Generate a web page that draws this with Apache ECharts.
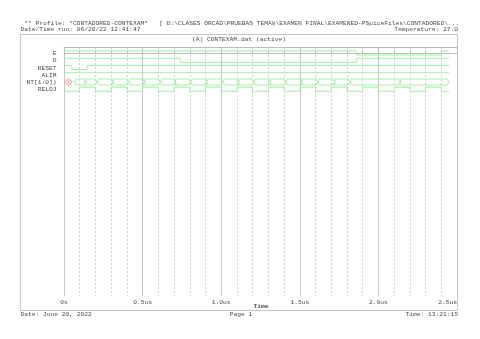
<!DOCTYPE html>
<html><head><meta charset="utf-8">
<script src="https://cdn.jsdelivr.net/npm/echarts@6/dist/echarts.min.js"></script>
<style>html,body{margin:0;padding:0;background:#fff}#c{width:480px;height:339px}</style>
</head><body><div id="c"></div>
<script>
// ---- data ----
const signalNames = ['E', 'D', 'RESET', 'ALIM', 'NT[1:0])', 'RELOJ'];
const eTimes = [0, 1.86, 2.40];
const eLevels = [1, 0, 1];
const dTimes = [0, 0.74, 1.86];
const dLevels = [1, 0, 1];
const resetTimes = [0, 0.05, 0.147];
const resetLevels = [1, 0, 1];
const alimTimes = [0];
const alimLevels = [1];
const clkTimes = [0, 0.1, 0.2, 0.3, 0.4, 0.5, 0.6, 0.7, 0.8, 0.9, 1.0, 1.1, 1.2, 1.3, 1.4, 1.5, 1.6, 1.7, 1.8, 1.9, 2.0, 2.1, 2.2, 2.3, 2.4];
const clkLevels = [0, 1, 0, 1, 0, 1, 0, 1, 0, 1, 0, 1, 0, 1, 0, 1, 0, 1, 0, 1, 0, 1, 0, 1, 0];
const busTimes = [0, 0.064, 0.211, 0.409, 0.613, 0.805, 1.009, 1.207, 1.411, 1.616, 1.82];
const busValues = ['X', '0', '3', '2', '1', '2', '3', '0', '1', '2', '3'];
const simEnd = 2.45;
const tickLabels = ['0s', '0.5us', '1.0us', '1.5us', '2.0us', '2.5us'];
const axisTitle = 'Time';
const headerLine1 = ' ** Profile: "CONTADORED-CONTEXAM"   [ D:\\CLASES ORCAD\\PRUEBAS TEMA8\\EXAMEN FINAL\\EXAMENED-PSpiceFiles\\CONTADORED\\...';
const headerLine2 = 'Date/Time run: 06/20/22 12:41:47';
const temperatureText = 'Temperature: 27.0';
const plotTitle = '(A) CONTEXAM.dat (active)';
const footerDate = 'Date: June 20, 2022';
const footerPage = 'Page 1';
const footerTime = 'Time: 13:21:15';

// ---- styling / layout ----
const FONT = '"Liberation Mono", "DejaVu Sans Mono", monospace';
const FS = 6.25;
const TXT = '#4a4a4a';
const GREEN = '#a2efa2';
const RED = '#f7a0a0';
const GRID = '#cfcfcf';
const LVL = 0.28, BUSH = 0.42;

function digital(row, times, levels) {
  const d = times.map((t, i) => [t, row + (levels[i] ? -LVL : LVL)]);
  d.push([simEnd, row + (levels[levels.length - 1] ? -LVL : LVL)]);
  return {
    type: 'line', step: 'end', data: d, symbol: 'none', silent: true,
    lineStyle: { color: GREEN, width: 1 }, animation: false, z: 5
  };
}

const busSegs = busTimes.map((t, i) => [t, i + 1 < busTimes.length ? busTimes[i + 1] : simEnd]);
const busRow = 4;

const chart = echarts.init(document.getElementById('c'), null, { renderer: 'canvas' });
chart.setOption({
  backgroundColor: '#fff',
  animation: false,
  grid: { left: 64, right: 23, top: 47, bottom: 43.5, outerBoundsMode: 'none' },
  xAxis: [{
    type: 'value', min: 0, max: 2.5, interval: 0.5, position: 'bottom',
    axisLine: { lineStyle: { color: '#bdbdbd', width: 1 } },
    axisTick: { inside: true, length: 4, lineStyle: { color: '#bdbdbd' } },
    minorTick: { show: true, splitNumber: 5, length: 3, lineStyle: { color: '#bdbdbd' } },
    splitLine: { show: true, lineStyle: { color: '#c6c6c6', width: 1 } },
    minorSplitLine: { show: true, lineStyle: { color: GRID, width: 1, type: [2, 2] } },
    axisLabel: {
      formatter: v => tickLabels[Math.round(v / 0.5)], margin: 3.5,
      fontFamily: FONT, fontSize: FS, color: TXT, alignMaxLabel: 'right'
    }
  }, {
    type: 'value', min: 0, max: 2.5, interval: 0.5, position: 'top',
    axisLine: { lineStyle: { color: '#bdbdbd', width: 1 } },
    axisTick: { inside: true, length: 3, lineStyle: { color: '#bdbdbd' } },
    minorTick: { show: true, splitNumber: 5, length: 2, lineStyle: { color: '#bdbdbd' } },
    splitLine: { show: false }, axisLabel: { show: false }
  }],
  yAxis: { type: 'value', inverse: true, min: -0.83, max: 33.45, show: false },
  series: [
    digital(0, eTimes, eLevels),
    digital(1, dTimes, dLevels),
    digital(2, resetTimes, resetLevels),
    digital(3, alimTimes, alimLevels),
    digital(5, clkTimes, clkLevels),
    {
      type: 'custom', data: busSegs, silent: true, z: 6, clip: false,
      renderItem: (params, api) => {
        const t0 = api.value(0), t1 = api.value(1);
        const p0 = api.coord([t0, busRow]), p1 = api.coord([t1, busRow]);
        const top = api.coord([t0, busRow - BUSH])[1], bot = api.coord([t0, busRow + BUSH])[1];
        const label = busValues[params.dataIndex];
        const isX = label === 'X';
        const col = isX ? RED : GREEN;
        const x0 = p0[0] + (isX ? 1 : 0), x1 = p1[0] - (isX ? 2 : 0);
        const d = isX ? 2.5 : 2;
        const cy = p0[1];
        return {
          type: 'group', children: [
            { type: 'polygon', shape: { points: [[x0, cy], [x0 + d, top], [x1 - d, top], [x1, cy], [x1 - d, bot], [x0 + d, bot]] },
              style: { fill: 'none', stroke: col, lineWidth: 1 } },
            { type: 'text', style: { text: label, x: (x0 + x1) / 2, y: cy + 0.5, align: 'center', verticalAlign: 'middle',
              fill: isX ? '#ee8080' : '#7ddc7d', font: FS + 'px ' + FONT } }
          ]
        };
      }
    },
    {
      type: 'custom', data: signalNames.map((n, i) => [0, i]), silent: true, clip: false,
      renderItem: (params, api) => {
        const p = api.coord([0, api.value(1)]);
        return { type: 'text', style: { text: signalNames[params.dataIndex], x: p[0] - 7.5, y: p[1] + 0.5,
          align: 'right', verticalAlign: 'middle', fill: TXT, font: FS + 'px ' + FONT } };
      }
    }
  ],
  graphic: [
    { type: 'rect', shape: { x: 20.5, y: 34.5, width: 437, height: 276 }, style: { fill: 'none', stroke: '#c4c4c4', lineWidth: 1 }, z: -1 },
    { type: 'text', left: 20.5, top: 20.3, style: { text: headerLine1, fill: TXT, font: FS + 'px ' + FONT } },
    { type: 'text', left: 20.5, top: 26.8, style: { text: headerLine2, fill: TXT, font: FS + 'px ' + FONT } },
    { type: 'text', right: 22, top: 26.8, style: { text: temperatureText, fill: TXT, font: FS + 'px ' + FONT } },
    { type: 'text', x: 239, y: 39.5, style: { text: plotTitle, fill: TXT, font: FS + 'px ' + FONT, align: 'center', verticalAlign: 'middle' } },
    { type: 'text', x: 261, y: 306.5, style: { text: axisTitle, fill: TXT, font: 'bold ' + FS + 'px ' + FONT, align: 'center', verticalAlign: 'middle' } },
    { type: 'text', left: 20.5, top: 311, style: { text: footerDate, fill: TXT, font: FS + 'px ' + FONT } },
    { type: 'text', x: 241, y: 314.3, style: { text: footerPage, fill: TXT, font: FS + 'px ' + FONT, align: 'center', verticalAlign: 'middle' } },
    { type: 'text', right: 22, top: 311, style: { text: footerTime, fill: TXT, font: FS + 'px ' + FONT } }
  ]
});
</script></body></html>
